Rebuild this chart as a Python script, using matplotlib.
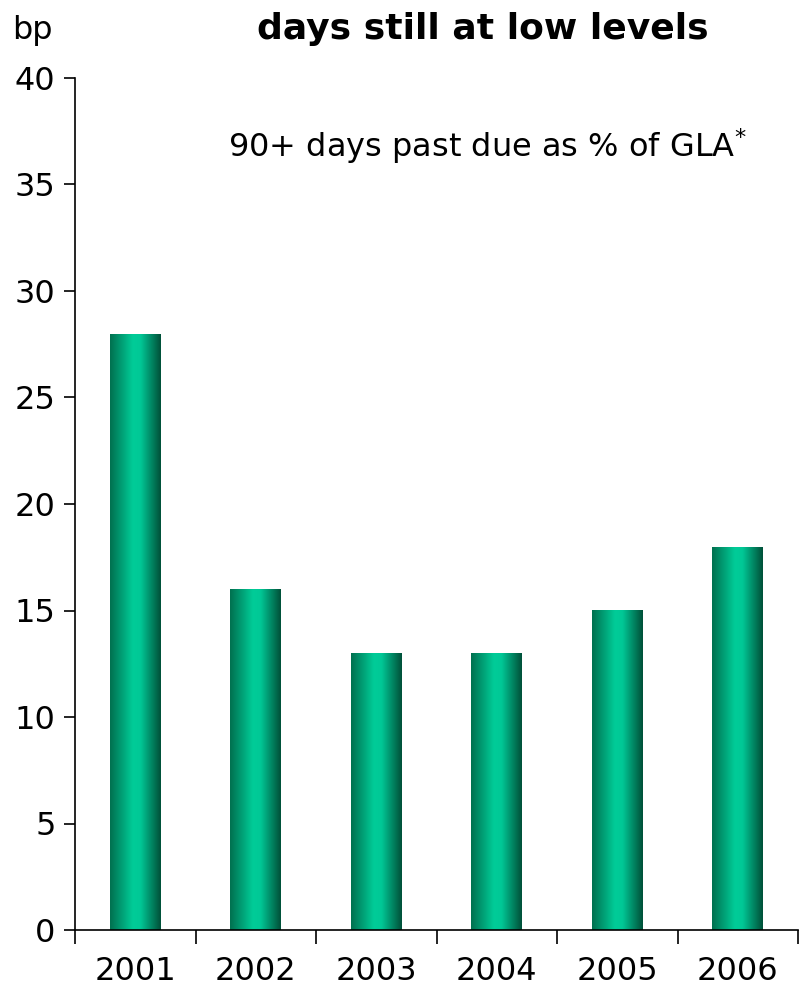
import matplotlib
matplotlib.use("Agg")
import matplotlib.pyplot as plt
import numpy as np
from matplotlib.colors import LinearSegmentedColormap

years = ["2001", "2002", "2003", "2004", "2005", "2006"]
values = [28, 16, 13, 13, 15, 18]

plt.rcParams['font.family'] = ['DejaVu Sans']

fig = plt.figure(figsize=(8, 9.89), dpi=100)
ax = fig.add_axes([75/800, 1 - 930/989, (798 - 75)/800, (930 - 78)/989])

cmap = LinearSegmentedColormap.from_list(
    "bar", [(0.0, "#00704f"), (0.45, "#00cc98"), (0.6, "#00c896"), (1.0, "#004f38")])
grad = np.linspace(0, 1, 256).reshape(1, -1)

x = np.arange(len(years))
width = 0.42
bars = ax.bar(x, values, width=width, color="none", edgecolor="none", zorder=2)
for b in bars:
    x0, y0 = b.get_x(), b.get_y()
    w, h = b.get_width(), b.get_height()
    im = ax.imshow(grad, cmap=cmap, aspect="auto", extent=[x0, x0 + w, y0, y0 + h],
                   interpolation="bicubic", zorder=2)
    im.set_clip_path(b)

ax.set_xlim(-0.5, len(years) - 0.5)
ax.set_ylim(0, 40)
ax.set_yticks(range(0, 41, 5))
ax.set_xticks(x)
ax.set_xticklabels(years)
ax.set_xticks(np.arange(-0.5, len(years), 1.0), minor=True)
ax.tick_params(axis="x", which="major", length=0, pad=19, labelsize=23)
ax.tick_params(axis="x", which="minor", length=10, width=1.2, direction="out")
ax.tick_params(axis="y", length=8, width=1.2, direction="out", labelsize=23, pad=6)
for s in ["top", "right"]:
    ax.spines[s].set_visible(False)
for s in ["left", "bottom"]:
    ax.spines[s].set_linewidth(1.2)

ax.text(228/800, 1 - 146/989, r"90+ days past due as % of GLA$^{*}$",
        transform=fig.transFigure, fontsize=23, ha="left", va="center")

fig.text(12/800, 1 - 30/989, "bp", fontsize=23, ha="left", va="center")
fig.text(483/800, 1 - 29/989, "days still at low levels", fontsize=26, fontweight="bold",
         ha="center", va="center")

fig.savefig("out.png", dpi=100)
